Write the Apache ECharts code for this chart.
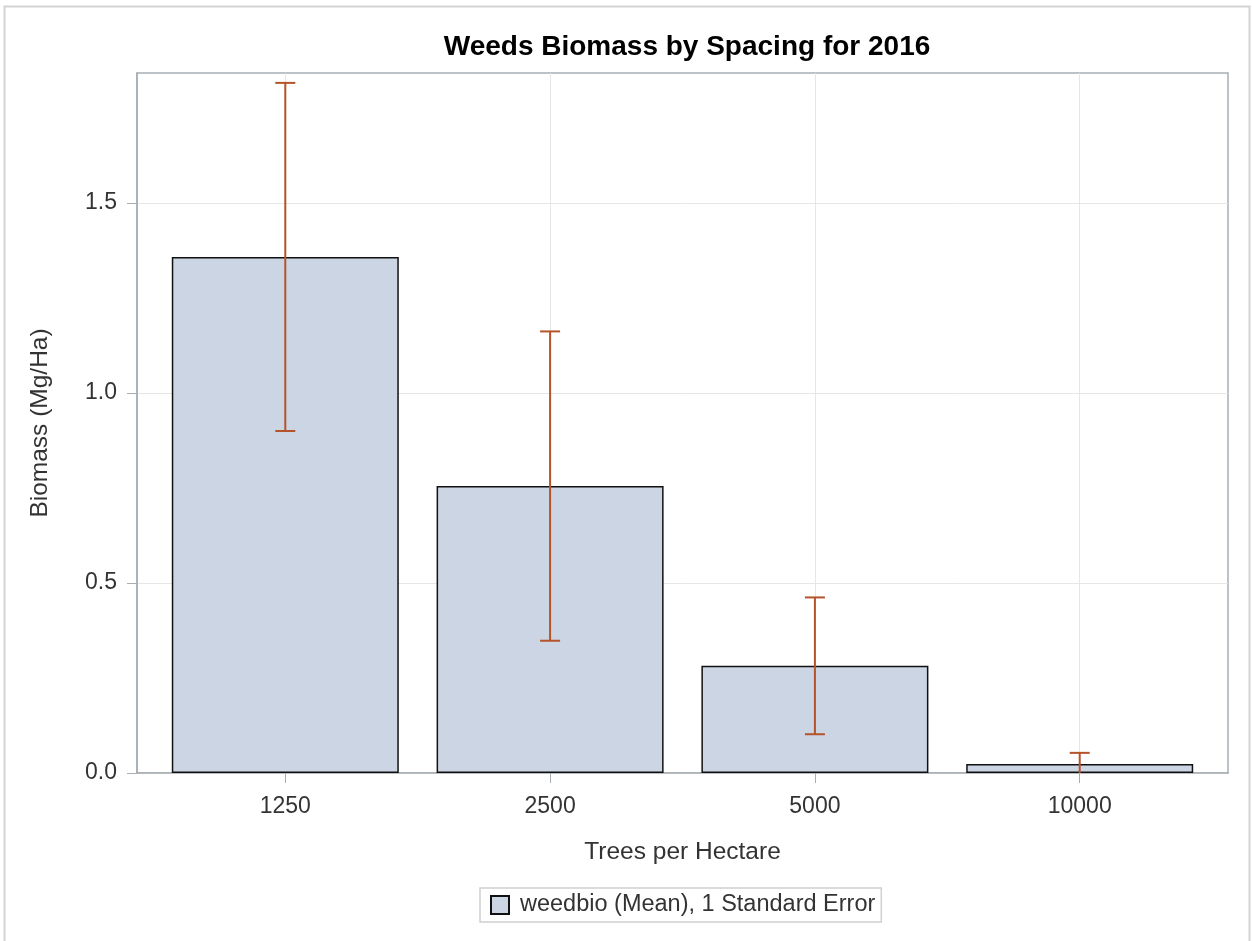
<!DOCTYPE html>
<html>
<head>
<meta charset="utf-8">
<script src="https://cdn.jsdelivr.net/npm/echarts@6/dist/echarts.min.js"></script>
<style>
html, body { margin: 0; padding: 0; background: #fff; }
#main { width: 1253px; height: 941px; }
</style>
</head>
<body>
<div id="main"></div>
<script>
// weeds biomass, mean and 1 standard error
var categories = ['1250', '2500', '5000', '10000'];
var meanValues = [1.358, 0.755, 0.282, 0.024];
var stdErrors = [0.458, 0.407, 0.180, 0.029];
var yTicks = [0, 0.5, 1.0, 1.5];

var barData = [];
var errData = [];
for (var i = 0; i < categories.length; i++) {
    barData.push([i, meanValues[i]]);
    errData.push([i, meanValues[i] - stdErrors[i], meanValues[i] + stdErrors[i]]);
}
var catIdx = categories.map(function (c, i) { return i; });

var dom = document.getElementById('main');
var myChart = echarts.init(dom, null, { renderer: 'canvas' });

var labelFont = 'Arial, "Liberation Sans", sans-serif';

var option = {
    backgroundColor: '#fff',
    animation: false,
    title: {
        text: 'Weeds Biomass by Spacing for 2016',
        left: 682,
        textAlign: 'center',
        top: 28,
        textStyle: { fontFamily: labelFont, fontSize: 28, fontWeight: 'bold', color: '#000' }
    },
    legend: {
        data: ['weedbio (Mean), 1 Standard Error'],
        left: 480,
        bottom: 19,
        padding: [5, 6, 5, 10],
        borderColor: '#d0d0d0',
        borderWidth: 1.5,
        itemWidth: 18,
        itemHeight: 18,
        itemGap: 8,
        icon: 'rect',
        textStyle: { fontFamily: labelFont, fontSize: 23.5, color: '#333', padding: [0, 0, 0, 6] }
    },
    grid: {
        left: 137, right: 25, top: 73, bottom: 168,
        show: true,
        borderColor: '#a7aeb3',
        borderWidth: 1.5
    },
    xAxis: {
        type: 'value',
        min: -0.56,
        max: 3.56,
        name: 'Trees per Hectare',
        nameLocation: 'middle',
        nameGap: 67,
        nameTextStyle: { fontFamily: labelFont, fontSize: 24.5, color: '#333' },
        axisLine: { show: true, onZero: false, lineStyle: { color: '#a7aeb3', width: 1.5 } },
        axisTick: { show: true, length: 10, customValues: catIdx, lineStyle: { color: '#a7aeb3' } },
        axisLabel: {
            customValues: catIdx,
            margin: 22,
            fontFamily: labelFont, fontSize: 23, color: '#333',
            formatter: function (v) { return categories[Math.round(v)]; }
        },
        splitLine: { show: true, lineStyle: { color: '#e6e6e6' } }
    },
    yAxis: {
        type: 'value',
        min: 0,
        max: 1.842,
        name: 'Biomass (Mg/Ha)',
        nameLocation: 'middle',
        nameGap: 84,
        nameTextStyle: { fontFamily: labelFont, fontSize: 24.5, color: '#333' },
        axisLine: { show: true, onZero: false, lineStyle: { color: '#a7aeb3', width: 1.5 } },
        axisTick: { show: true, length: 10, customValues: yTicks, lineStyle: { color: '#a7aeb3' } },
        axisLabel: {
            customValues: yTicks,
            margin: 20,
            fontFamily: labelFont, fontSize: 23, color: '#333',
            formatter: function (v) { return v.toFixed(1); }
        },
        splitLine: { show: true, lineStyle: { color: '#e6e6e6' } }
    },
    graphic: [{
        type: 'polyline',
        shape: { points: [[4.5, 941], [4.5, 6.5], [1249.5, 6.5], [1249.5, 941]] },
        style: { stroke: '#d4d4d4', lineWidth: 2, fill: null },
        silent: true
    }],
    series: [{
        name: 'weedbio (Mean), 1 Standard Error',
        type: 'bar',
        barWidth: 227,
        data: barData,
        itemStyle: { color: '#cbd5e4', borderColor: '#111', borderWidth: 1.5 }
    }, {
        name: 'err',
        type: 'custom',
        data: errData,
        z: 10,
        renderItem: function (params, api) {
            var x = api.value(0);
            var lo = api.coord([x, api.value(1)]);
            var hi = api.coord([x, api.value(2)]);
            var cap = 10;
            var clipBottom = params.coordSys.y + params.coordSys.height;
            var loY = Math.min(lo[1], clipBottom);
            var lineStyle = { stroke: '#b5532b', lineWidth: 2 };
            var children = [
                { type: 'line', shape: { x1: lo[0], y1: loY, x2: hi[0], y2: hi[1] }, style: lineStyle },
                { type: 'line', shape: { x1: hi[0] - cap, y1: hi[1], x2: hi[0] + cap, y2: hi[1] }, style: lineStyle }
            ];
            if (lo[1] <= clipBottom) {
                children.push({ type: 'line', shape: { x1: lo[0] - cap, y1: lo[1], x2: lo[0] + cap, y2: lo[1] }, style: lineStyle });
            }
            return { type: 'group', children: children };
        }
    }]
};
myChart.setOption(option);
</script>
</body>
</html>
